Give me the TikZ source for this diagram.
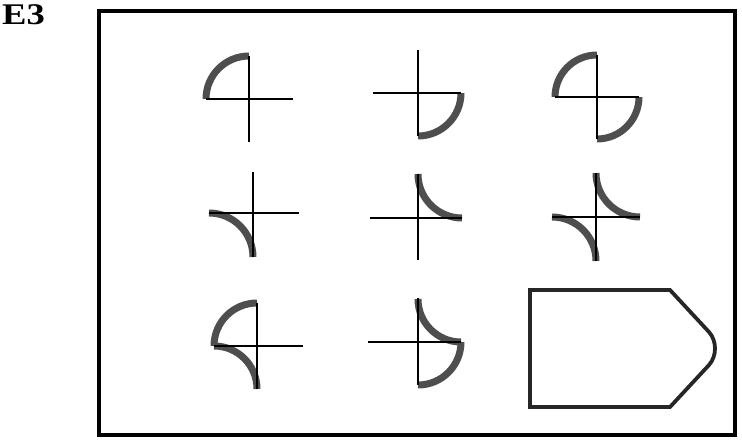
\documentclass[tikz,border=0pt]{standalone}
\usepackage{fontspec}
\setmainfont{Liberation Serif}
\usetikzlibrary{calc}
\definecolor{arcgray}{RGB}{78,78,78}
\tikzset{
  crossline/.style={black, line width=2.7pt},
  thickarc/.style={arcgray, line width=7pt, line cap=butt},
  framebox/.style={black, line width=3.2pt},
  tagshape/.style={black!85, line width=3.8pt, line join=miter}
}
\begin{document}
\begin{tikzpicture}[x=1pt,y=1pt]
\useasboundingbox (0,0) rectangle (742,444);
% label
\node[anchor=base west, inner sep=0pt, font=\fontsize{30}{30}\selectfont\bfseries, xscale=1.22] (lbl) at (2,419) {E3};
% frame
\draw[framebox] (99,433) rectangle (735,9);
% shape 1: convex upper-left
\coordinate (c1) at (249,345);
\draw[thickarc] ($(c1)+(-43,0)$) arc[start angle=180, end angle=90, radius=43];
\draw[crossline] ($(c1)+(-43,0)$) -- ($(c1)+(44,0)$);
\draw[crossline] ($(c1)+(0,43)$) -- ($(c1)+(0,-43)$);
% shape 2: convex lower-right
\coordinate (c2) at (418,351);
\draw[thickarc] ($(c2)+(0,-43)$) arc[start angle=270, end angle=360, radius=43];
\draw[crossline] ($(c2)+(-45,0)$) -- ($(c2)+(43,0)$);
\draw[crossline] ($(c2)+(0,43)$) -- ($(c2)+(0,-43)$);
% shape 3: convex upper-left and lower-right
\coordinate (c3) at (597,347);
\draw[thickarc] ($(c3)+(-42,0)$) arc[start angle=180, end angle=90, radius=42];
\draw[thickarc] ($(c3)+(0,-42)$) arc[start angle=270, end angle=360, radius=42];
\draw[crossline] ($(c3)+(-42,0)$) -- ($(c3)+(42,0)$);
\draw[crossline] ($(c3)+(0,42)$) -- ($(c3)+(0,-42)$);
% shape 4: concave lower-left
\coordinate (c4) at (253,231);
\draw[thickarc] ($(c4)+(-44,0)$) arc[start angle=90, end angle=0, radius=44];
\draw[crossline] ($(c4)+(-44,0)$) -- ($(c4)+(46,0)$);
\draw[crossline] ($(c4)+(0,41)$) -- ($(c4)+(0,-44)$);
% shape 5: concave upper-right
\coordinate (c5) at (418,226);
\draw[thickarc] ($(c5)+(0,44)$) arc[start angle=180, end angle=270, radius=44];
\draw[crossline] ($(c5)+(-48,0)$) -- ($(c5)+(44,0)$);
\draw[crossline] ($(c5)+(0,44)$) -- ($(c5)+(0,-42)$);
% shape 6: concave upper-right and lower-left
\coordinate (c6) at (596,227);
\draw[thickarc] ($(c6)+(0,44)$) arc[start angle=180, end angle=270, radius=44];
\draw[thickarc] ($(c6)+(-44,0)$) arc[start angle=90, end angle=0, radius=44];
\draw[crossline] ($(c6)+(-44,0)$) -- ($(c6)+(44,0)$);
\draw[crossline] ($(c6)+(0,44)$) -- ($(c6)+(0,-44)$);
% shape 7: convex upper-left, concave lower-left
\coordinate (c7) at (257,98);
\draw[thickarc] ($(c7)+(-43,0)$) arc[start angle=180, end angle=90, radius=43];
\draw[thickarc] ($(c7)+(-43,0)$) arc[start angle=90, end angle=0, radius=43];
\draw[crossline] ($(c7)+(-43,0)$) -- ($(c7)+(46,0)$);
\draw[crossline] ($(c7)+(0,43)$) -- ($(c7)+(0,-43)$);
% shape 8: concave upper-right, convex lower-right
\coordinate (c8) at (418,102);
\draw[thickarc] ($(c8)+(0,43)$) arc[start angle=180, end angle=270, radius=43];
\draw[thickarc] ($(c8)+(0,-43)$) arc[start angle=270, end angle=360, radius=43];
\draw[crossline] ($(c8)+(-50,0)$) -- ($(c8)+(43,0)$);
\draw[crossline] ($(c8)+(0,44)$) -- ($(c8)+(0,-43)$);
% shape 9: tag shape
\draw[tagshape] (530,154) -- (670,154) -- (709,112)
  .. controls (717,103) and (717,88) .. (709,79)
  -- (670,37) -- (530,37) -- cycle;
\end{tikzpicture}
\end{document}
